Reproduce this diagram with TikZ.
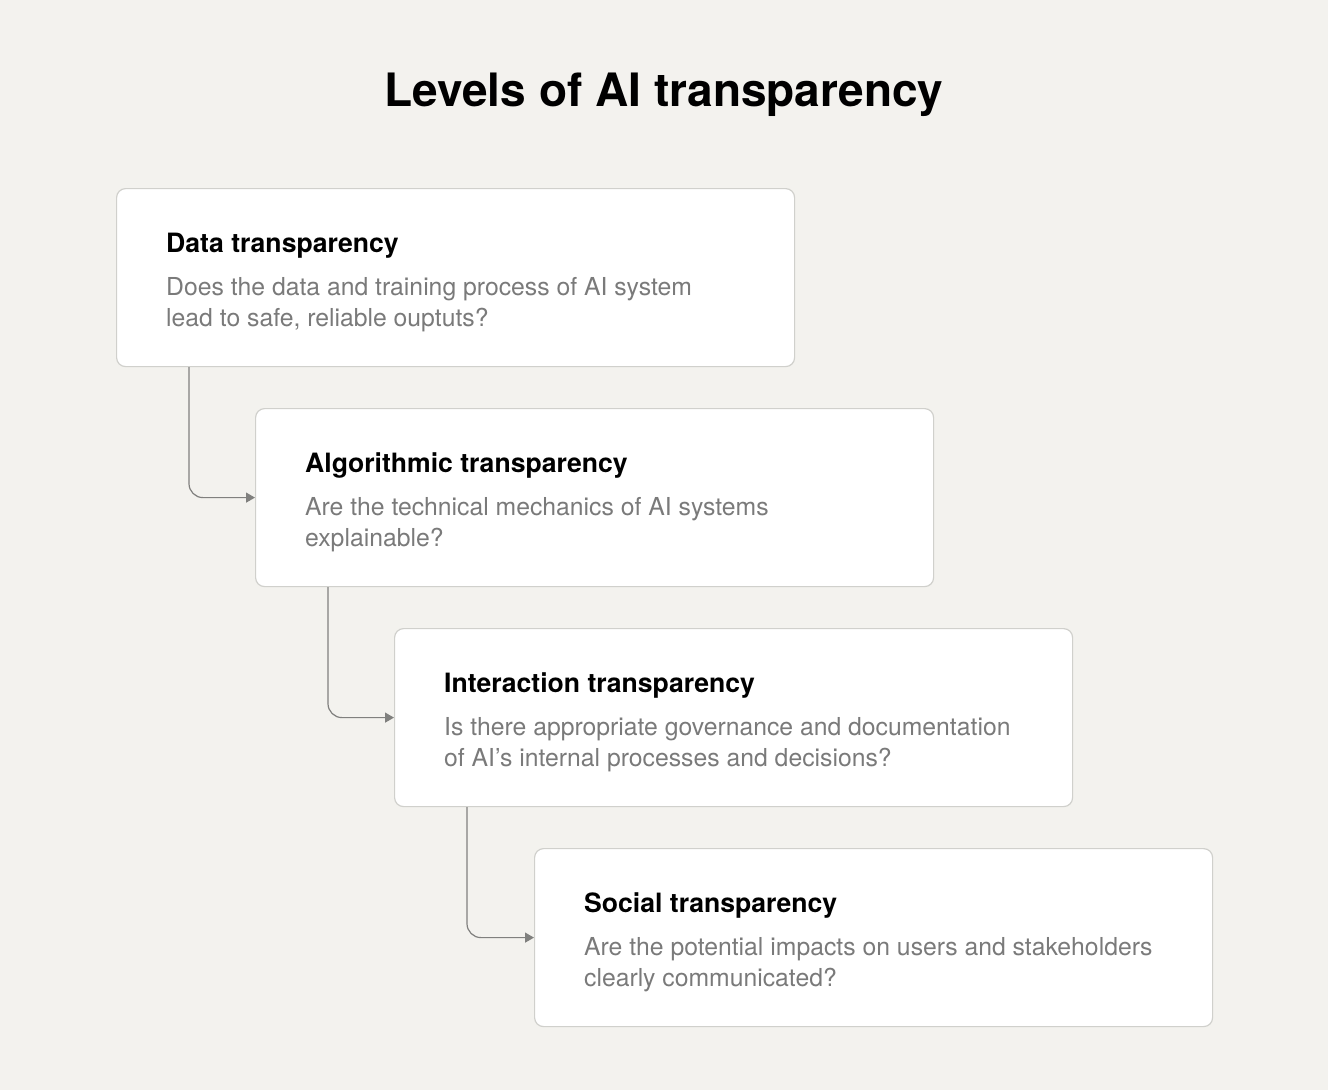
\documentclass[tikz,border=0pt]{standalone}
\usepackage{fontspec}
\setmainfont{TeX Gyre Heros}
\usetikzlibrary{arrows.meta}
\definecolor{bg}{RGB}{243, 242, 238}
\definecolor{edge}{RGB}{208, 208, 204}
\definecolor{body}{RGB}{122, 122, 122}
\definecolor{wire}{RGB}{128, 128, 126}
\def\boxw{678}
\def\boxh{178}
\newcommand{\levelbox}[6]{\node[minimum height=\boxh pt,minimum width=\boxw pt,draw=edge,line width=1.2pt,rounded corners=9pt,fill=white,anchor=north west,inner sep=0pt] (#3) at (#1,#2) {};
	\node[anchor=base west,inner sep=0pt,font=\fontsize{26.6}{30}\selectfont\bfseries] (#3-head) at (#1+50,#2+64) {#4};
	\node[anchor=base west,inner sep=0pt,text=body,font=\fontsize{24.75}{28}\selectfont] (#3-one) at (#1+50,#2+107) {#5};
	\node[anchor=base west,inner sep=0pt,text=body,font=\fontsize{24.75}{28}\selectfont] (#3-two) at (#1+50,#2+138) {#6}; }

\begin{document}
\begin{tikzpicture}[x=1pt,y=-1pt]
\fill[bg] (0,0) rectangle (1328,1090);
\useasboundingbox (0,0) rectangle (1328,1090);
\node[anchor=base,inner sep=0pt,font=\fontsize{46}{50}\selectfont\bfseries] (title) at (664,106) {Levels of AI transparency};

\levelbox{116}{188}{Data}{Data transparency}{Does the data and training process of AI system}{lead to safe, reliable ouptuts?}
\levelbox{255}{408}{Algo}{Algorithmic transparency}{Are the technical mechanics of AI systems}{explainable?}
\levelbox{394}{628}{Inter}{Interaction transparency}{Is there appropriate governance and documentation}{of AI’s internal processes and decisions?}
\levelbox{534}{848}{Social}{Social transparency}{Are the potential impacts on users and stakeholders}{clearly communicated?}

\draw[-{Triangle[length=9pt,width=10pt]},color=wire,line width=1.2pt,rounded corners=14pt] ([xshift=73pt]Data.south west) |- (Algo.west);
\draw[-{Triangle[length=9pt,width=10pt]},color=wire,line width=1.2pt,rounded corners=14pt] ([xshift=73pt]Algo.south west) |- (Inter.west);
\draw[-{Triangle[length=9pt,width=10pt]},color=wire,line width=1.2pt,rounded corners=14pt] ([xshift=73pt]Inter.south west) |- (Social.west);
\end{tikzpicture}
\end{document}
